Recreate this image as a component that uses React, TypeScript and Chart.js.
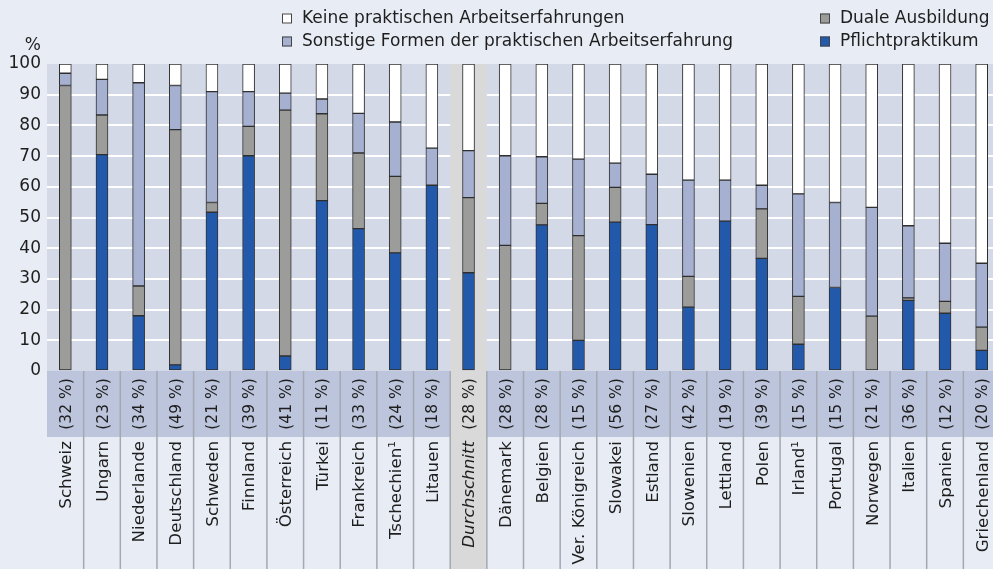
import React, { useEffect, useRef } from "react";
import { Chart, registerables } from "chart.js";

Chart.register(...registerables);

const categories = [
  "Schweiz", "Ungarn", "Niederlande", "Deutschland", "Schweden", "Finnland",
  "Österreich", "Türkei", "Frankreich", "Tschechien¹", "Litauen", "Durchschnitt",
  "Dänemark", "Belgien", "Ver. Königreich", "Slowakei", "Estland", "Slowenien",
  "Lettland", "Polen", "Irland¹", "Portugal", "Norwegen", "Italien", "Spanien",
  "Griechenland",
];

const shareLabels = [
  "(32 %)", "(23 %)", "(34 %)", "(49 %)", "(21 %)", "(39 %)", "(41 %)", "(11 %)",
  "(33 %)", "(24 %)", "(18 %)", "(28 %)", "(28 %)", "(28 %)", "(15 %)", "(56 %)",
  "(27 %)", "(42 %)", "(19 %)", "(39 %)", "(15 %)", "(15 %)", "(21 %)", "(36 %)",
  "(12 %)", "(20 %)",
];

const pflichtpraktikum = [
  0, 70.5, 18, 2, 51.7, 70.1, 4.9, 55.5, 46.4, 38.5, 60.5, 32, 0, 47.6, 10, 48.5,
  47.7, 20.8, 48.8, 36.7, 8.7, 27.2, 0, 23, 18.8, 6.7,
];
const dualeAusbildung = [
  93, 12.9, 9.7, 76.6, 3.2, 9.6, 80.1, 28.3, 24.6, 24.9, 0, 24.5, 40.9, 7, 34.1,
  11.3, 0, 10, 0, 16.1, 15.6, 0, 17.9, 0.8, 3.9, 7.6,
];
const sonstigeFormen = [
  4, 11.6, 66.2, 14.4, 36.1, 11.3, 5.5, 4.8, 12.9, 17.7, 12.1, 15.3, 29.2, 15.2,
  24.9, 7.9, 16.4, 31.4, 13.4, 7.7, 33.4, 27.7, 35.4, 23.5, 18.9, 20.8,
];
const keinePraxis = [
  3, 5, 6.1, 7, 9, 9, 9.5, 11.4, 16.1, 18.9, 27.4, 28.2, 29.9, 30.2, 31, 32.3,
  35.9, 37.8, 37.8, 39.5, 42.3, 45.1, 46.7, 52.7, 58.4, 64.9,
];

const yTicks = [0, 10, 20, 30, 40, 50, 60, 70, 80, 90, 100];
const averageIndex = 11;

const FONT = "'DejaVu Sans', sans-serif";
const PAGE_BG = "#e8ecf4";
const PLOT_BG = "#d3d9e6";
const BAND_BG = "#bcc5dc";
const AVG_BG = "#d9d9d9";
const SEP = "#a3a8b2";
const TEXT = "#1e1e1e";
const BAND_H = 66;

const legendItems = [
  { label: "Keine praktischen Arbeitserfahrungen", color: "#ffffff", x: 282, y: 18.5 },
  { label: "Sonstige Formen der praktischen Arbeitserfahrung", color: "#a6b0d0", x: 282, y: 41.5 },
  { label: "Duale Ausbildung", color: "#9c9d9b", x: 820, y: 18.5 },
  { label: "Pflichtpraktikum", color: "#2259ab", x: 820, y: 41.5 },
];

const decorPlugin = {
  id: "decor",
  beforeDraw(chart: any) {
    const { ctx, chartArea: a, width, height } = chart;
    ctx.save();
    ctx.fillStyle = PAGE_BG;
    ctx.fillRect(0, 0, width, height);
    ctx.fillStyle = PLOT_BG;
    ctx.fillRect(a.left, a.top, a.right - a.left, a.bottom - a.top);
    ctx.fillStyle = BAND_BG;
    ctx.fillRect(a.left, a.bottom, a.right - a.left, BAND_H);
    ctx.restore();
  },
  beforeDatasetsDraw(chart: any) {
    const { ctx, chartArea: a, height } = chart;
    const xs = chart.scales.x;
    const w = xs.getPixelForValue(1) - xs.getPixelForValue(0);
    const cx = xs.getPixelForValue(averageIndex);
    ctx.save();
    ctx.fillStyle = AVG_BG;
    ctx.fillRect(cx - w / 2, a.top, w, height - a.top);
    ctx.restore();
  },
  afterDraw(chart: any) {
    const { ctx, chartArea: a, height } = chart;
    const xs = chart.scales.x;
    const w = xs.getPixelForValue(1) - xs.getPixelForValue(0);
    ctx.save();
    ctx.strokeStyle = SEP;
    ctx.lineWidth = 1.5;
    for (let i = 1; i < categories.length; i++) {
      const x = xs.getPixelForValue(i) - w / 2;
      ctx.beginPath();
      ctx.moveTo(x, a.bottom);
      ctx.lineTo(x, height);
      ctx.stroke();
    }
    ctx.fillStyle = TEXT;
    for (let i = 0; i < categories.length; i++) {
      const x = xs.getPixelForValue(i) + 1.5;
      ctx.save();
      ctx.translate(x, a.bottom + BAND_H / 2);
      ctx.rotate(-Math.PI / 2);
      ctx.font = `15.5px ${FONT}`;
      ctx.textAlign = "center";
      ctx.textBaseline = "middle";
      ctx.fillText(shareLabels[i], 0, 0);
      ctx.restore();

      ctx.save();
      ctx.translate(x, a.bottom + BAND_H + 4);
      ctx.rotate(-Math.PI / 2);
      ctx.font = `${i === averageIndex ? "italic " : ""}16.7px ${FONT}`;
      ctx.textAlign = "right";
      ctx.textBaseline = "middle";
      ctx.fillText(categories[i], 0, 0);
      ctx.restore();
    }
    ctx.font = `17px ${FONT}`;
    ctx.textAlign = "right";
    ctx.textBaseline = "middle";
    ctx.fillText("%", 41, 46);
    ctx.font = `17px ${FONT}`;
    ctx.textAlign = "left";
    for (const it of legendItems) {
      ctx.fillStyle = it.color;
      ctx.fillRect(it.x, it.y - 5, 10, 10);
      ctx.strokeStyle = "#444";
      ctx.lineWidth = 1;
      ctx.strokeRect(it.x + 0.5, it.y - 4.5, 9, 9);
      ctx.fillStyle = TEXT;
      ctx.fillText(it.label, it.x + 20, it.y);
    }
    ctx.restore();
  },
};

export default function App() {
  const ref = useRef<HTMLCanvasElement | null>(null);
  useEffect(() => {
    if (!ref.current) return;
    const mk = (label: string, data: number[], color: string) => ({
      label,
      data,
      backgroundColor: color,
      borderColor: "#2f2f2f",
      borderWidth: 1,
      borderSkipped: false,
      barThickness: 12,
    });
    const chart = new Chart(ref.current, {
      type: "bar",
      data: {
        labels: categories,
        datasets: [
          mk("Pflichtpraktikum", pflichtpraktikum, "#2259ab"),
          mk("Duale Ausbildung", dualeAusbildung, "#9c9d9b"),
          mk("Sonstige Formen der praktischen Arbeitserfahrung", sonstigeFormen, "#a6b0d0"),
          mk("Keine praktischen Arbeitserfahrungen", keinePraxis, "#ffffff"),
        ],
      },
      options: {
        responsive: false,
        animation: false,
        devicePixelRatio: 1,
        layout: { padding: { top: 64, bottom: 198, left: 0, right: 0 } },
        plugins: { legend: { display: false }, tooltip: { enabled: false } },
        scales: {
          x: { stacked: true, display: false, offset: true },
          y: {
            stacked: true,
            min: 0,
            max: 100,
            afterFit: (s: any) => { s.width = 47; },
            afterBuildTicks: (s: any) => { s.ticks = yTicks.map((v) => ({ value: v })); },
            border: { display: false },
            grid: {
              drawTicks: false,
              lineWidth: 2,
              color: (c: any) => (c.tick && (c.tick.value === 0 || c.tick.value === 100) ? "rgba(0,0,0,0)" : "#ffffff"),
            },
            ticks: {
              padding: 6,
              color: TEXT,
              font: { family: FONT, size: 17 },
            },
          },
        },
      },
      plugins: [decorPlugin],
    });
    return () => chart.destroy();
  }, []);
  return (
    <div style={{ position: "fixed", left: 0, top: 0, width: 993, height: 569, overflow: "hidden", background: PAGE_BG }}>
      <canvas ref={ref} width={1000} height={569} style={{ width: 1000, height: 569, display: "block" }} />
    </div>
  );
}
